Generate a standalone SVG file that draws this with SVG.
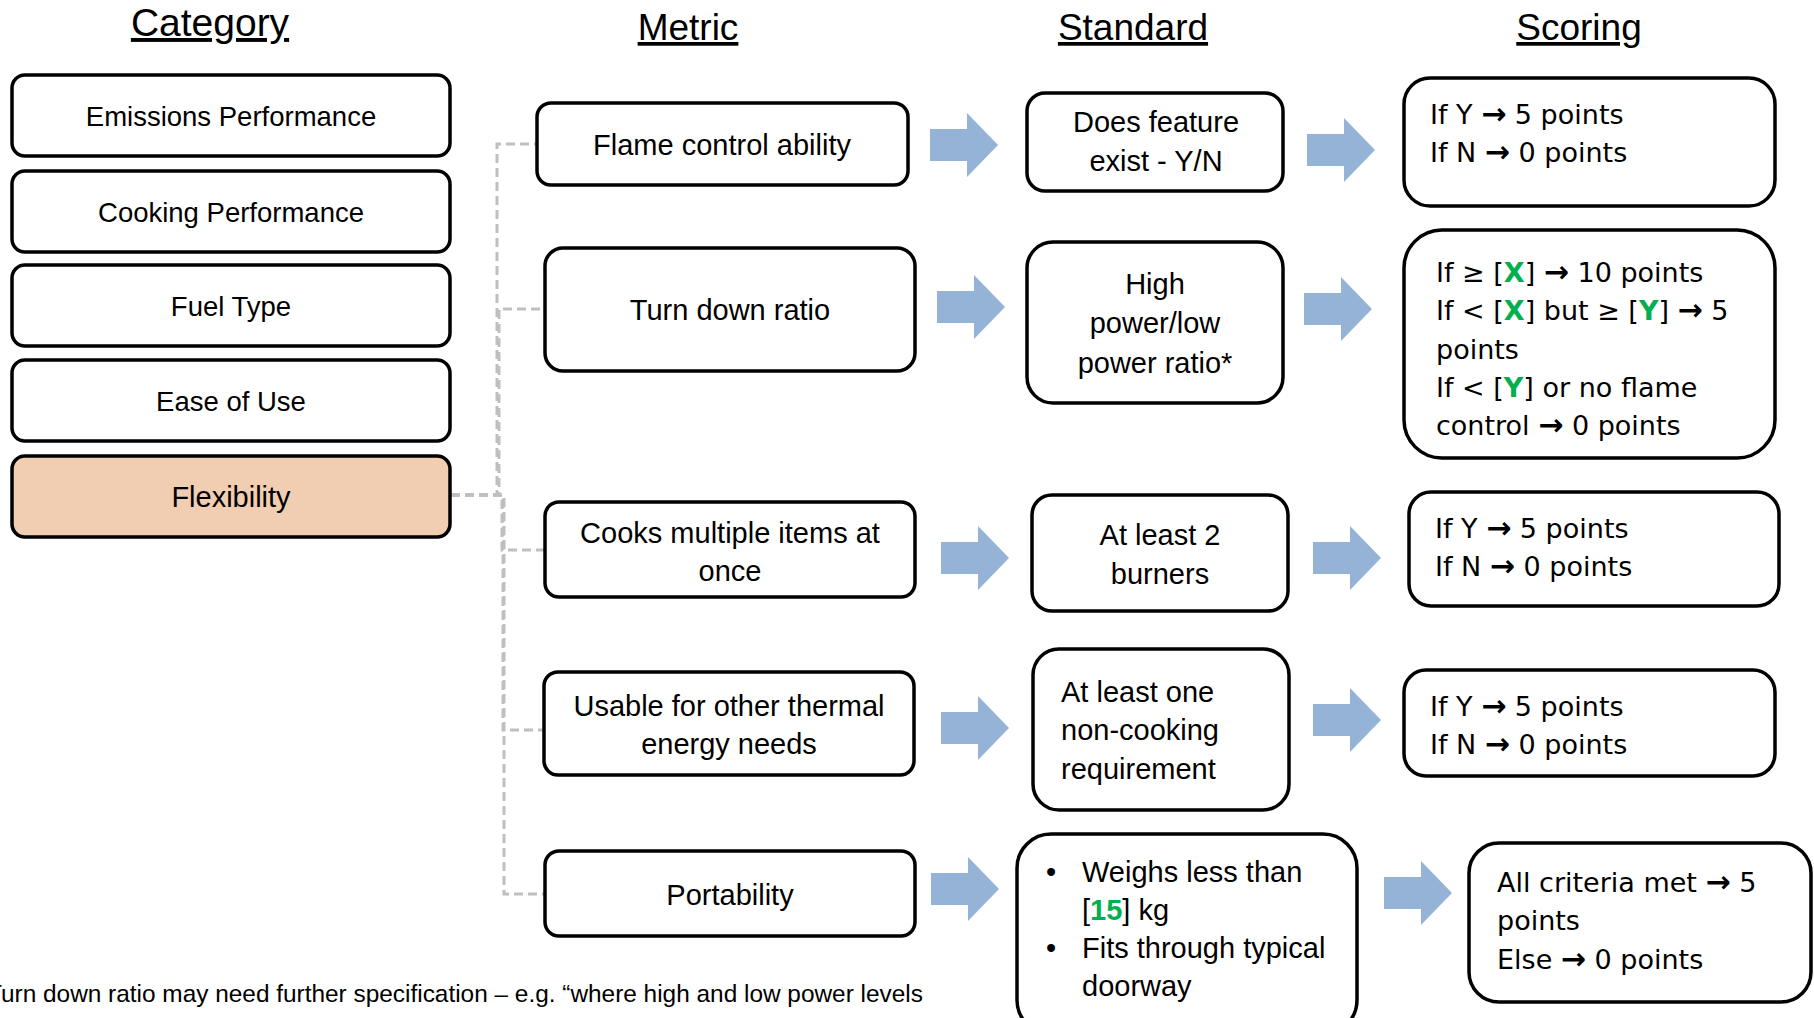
<svg xmlns="http://www.w3.org/2000/svg" xmlns:xlink="http://www.w3.org/1999/xlink" width="1814" height="1018" viewBox="0 0 1814 1018">
  <style>
    .box { fill: #ffffff; stroke: #000000; stroke-width: 3.5; }
    .hl { fill: #F1CDB2; }
    .hdr { font-family: "Liberation Sans", Arial, sans-serif; font-size: 37px; fill: #000; text-anchor: middle; text-decoration: underline; }
    .cat { font-family: "Liberation Sans", Arial, sans-serif; font-size: 27.5px; fill: #000; text-anchor: middle; }
    .met { font-family: "Liberation Sans", Arial, sans-serif; font-size: 29px; fill: #000; text-anchor: middle; }
    .stdl { font-family: "Liberation Sans", Arial, sans-serif; font-size: 29px; fill: #000; }
    .sc { font-family: "DejaVu Sans", "Liberation Sans", sans-serif; font-size: 27px; fill: #000; }
    .ar { font-weight: bold; font-size: 30px; }
    .g { fill: #00B050; font-weight: bold; }
    .dash { fill: none; stroke: #BFBFBF; stroke-width: 3; stroke-dasharray: 9 5; }
    .blk { fill: #95B3D7; }
    .note { font-family: "Liberation Sans", Arial, sans-serif; font-size: 24.4px; fill: #000; }
  </style>
  <defs>
    <path id="blockArrow" d="M0,16 H37 V0 L68,32 L37,64 V48 H0 Z"/>
  </defs>

  <rect width="1814" height="1018" fill="#ffffff"/>

  <!-- column headings -->
  <g id="headings">
    <text class="hdr" x="210" y="36" style="font-size:39px">Category</text>
    <text class="hdr" x="688" y="40">Metric</text>
    <text class="hdr" x="1133" y="40">Standard</text>
    <text class="hdr" x="1579" y="40">Scoring</text>
  </g>

  <!-- connectors: dashed tree from Flexibility and block arrows between columns -->
  <g id="connectors">
    <path class="dash" d="M451,495 H497 V144 H537"/>
    <path class="dash" d="M451,495 H499 V309 H545"/>
    <path class="dash" d="M451,495 H502 V550 H545"/>
    <path class="dash" d="M451,495 H503 V730 H544"/>
    <path class="dash" d="M451,495 H504 V894 H545"/>

    <use href="#blockArrow" class="blk" x="930" y="113"/>
    <use href="#blockArrow" class="blk" x="937" y="275"/>
    <use href="#blockArrow" class="blk" x="941" y="526"/>
    <use href="#blockArrow" class="blk" x="941" y="696"/>
    <use href="#blockArrow" class="blk" x="931" y="857"/>

    <use href="#blockArrow" class="blk" x="1307" y="118"/>
    <use href="#blockArrow" class="blk" x="1304" y="277"/>
    <use href="#blockArrow" class="blk" x="1313" y="526"/>
    <use href="#blockArrow" class="blk" x="1313" y="688"/>
    <use href="#blockArrow" class="blk" x="1384" y="861"/>
  </g>

  <!-- category column -->
  <g id="cat-emissions">
    <rect class="box" x="12" y="75" width="438" height="81" rx="13"/>
    <text class="cat" x="231" y="126">Emissions Performance</text>
  </g>
  <g id="cat-cooking">
    <rect class="box" x="12" y="171" width="438" height="81" rx="13"/>
    <text class="cat" x="231" y="222">Cooking Performance</text>
  </g>
  <g id="cat-fuel">
    <rect class="box" x="12" y="265" width="438" height="81" rx="13"/>
    <text class="cat" x="231" y="316">Fuel Type</text>
  </g>
  <g id="cat-ease">
    <rect class="box" x="12" y="360" width="438" height="81" rx="13"/>
    <text class="cat" x="231" y="411">Ease of Use</text>
  </g>
  <g id="cat-flexibility">
    <rect class="box hl" x="12" y="456" width="438" height="81" rx="13"/>
    <text class="cat" x="231" y="507" style="font-size:29px">Flexibility</text>
  </g>

  <!-- metric column -->
  <g id="met-flame">
    <rect class="box" x="537" y="103" width="371" height="82" rx="14"/>
    <text class="met" x="722" y="155">Flame control ability</text>
  </g>
  <g id="met-turndown">
    <rect class="box" x="545" y="248" width="370" height="123" rx="18"/>
    <text class="met" x="730" y="320">Turn down ratio</text>
  </g>
  <g id="met-multiple">
    <rect class="box" x="545" y="502" width="370" height="95" rx="14"/>
    <text class="met" x="730" y="543">Cooks multiple items at</text>
    <text class="met" x="730" y="581">once</text>
  </g>
  <g id="met-thermal">
    <rect class="box" x="544" y="672" width="370" height="103" rx="14"/>
    <text class="met" x="729" y="716">Usable for other thermal</text>
    <text class="met" x="729" y="754">energy needs</text>
  </g>
  <g id="met-portability">
    <rect class="box" x="545" y="851" width="370" height="85" rx="14"/>
    <text class="met" x="730" y="905">Portability</text>
  </g>

  <!-- standard column -->
  <g id="std-feature">
    <rect class="box" x="1027" y="93" width="256" height="98" rx="18"/>
    <text class="met" x="1156" y="132">Does feature</text>
    <text class="met" x="1156" y="171">exist - Y/N</text>
  </g>
  <g id="std-ratio">
    <rect class="box" x="1027" y="242" width="256" height="161" rx="26"/>
    <text class="met" x="1155" y="294">High</text>
    <text class="met" x="1155" y="333">power/low</text>
    <text class="met" x="1155" y="373">power ratio*</text>
  </g>
  <g id="std-burners">
    <rect class="box" x="1032" y="495" width="256" height="116" rx="20"/>
    <text class="met" x="1160" y="545">At least 2</text>
    <text class="met" x="1160" y="584">burners</text>
  </g>
  <g id="std-noncooking">
    <rect class="box" x="1033" y="649" width="256" height="161" rx="26"/>
    <text class="stdl" x="1061" y="702">At least one</text>
    <text class="stdl" x="1061" y="740">non-cooking</text>
    <text class="stdl" x="1061" y="779">requirement</text>
  </g>
  <g id="std-portable">
    <rect class="box" x="1017" y="834" width="340" height="200" rx="34"/>
    <text class="stdl" x="1046" y="882">•</text>
    <text class="stdl" x="1082" y="882">Weighs less than</text>
    <text class="stdl" x="1082" y="920">[<tspan class="g">15</tspan>] kg</text>
    <text class="stdl" x="1046" y="958">•</text>
    <text class="stdl" x="1082" y="958">Fits through typical</text>
    <text class="stdl" x="1082" y="996">doorway</text>
  </g>

  <!-- scoring column -->
  <g id="sc-feature">
    <rect class="box" x="1404" y="78" width="371" height="128" rx="26"/>
    <text class="sc" x="1430" y="124">If Y <tspan class="ar">→</tspan> 5 points</text>
    <text class="sc" x="1430" y="162">If N <tspan class="ar">→</tspan> 0 points</text>
  </g>
  <g id="sc-ratio">
    <rect class="box" x="1404" y="230" width="371" height="228" rx="38"/>
    <text class="sc" x="1436" y="282">If ≥ [<tspan class="g">X</tspan>] <tspan class="ar">→</tspan> 10 points</text>
    <text class="sc" x="1436" y="320">If &lt; [<tspan class="g">X</tspan>] but ≥ [<tspan class="g">Y</tspan>] <tspan class="ar">→</tspan> 5</text>
    <text class="sc" x="1436" y="359">points</text>
    <text class="sc" x="1436" y="397">If &lt; [<tspan class="g">Y</tspan>] or no flame</text>
    <text class="sc" x="1436" y="435">control <tspan class="ar">→</tspan> 0 points</text>
  </g>
  <g id="sc-burners">
    <rect class="box" x="1409" y="492" width="370" height="114" rx="22"/>
    <text class="sc" x="1435" y="538">If Y <tspan class="ar">→</tspan> 5 points</text>
    <text class="sc" x="1435" y="576">If N <tspan class="ar">→</tspan> 0 points</text>
  </g>
  <g id="sc-noncooking">
    <rect class="box" x="1404" y="670" width="371" height="106" rx="22"/>
    <text class="sc" x="1430" y="716">If Y <tspan class="ar">→</tspan> 5 points</text>
    <text class="sc" x="1430" y="754">If N <tspan class="ar">→</tspan> 0 points</text>
  </g>
  <g id="sc-portable">
    <rect class="box" x="1469" y="843" width="342" height="159" rx="30"/>
    <text class="sc" x="1497" y="892">All criteria met <tspan class="ar">→</tspan> 5</text>
    <text class="sc" x="1497" y="930">points</text>
    <text class="sc" x="1497" y="969">Else <tspan class="ar">→</tspan> 0 points</text>
  </g>

  <!-- footnote -->
  <text class="note" x="-13" y="1002">Turn down ratio may need further specification – e.g. “where high and low power levels</text>
</svg>
